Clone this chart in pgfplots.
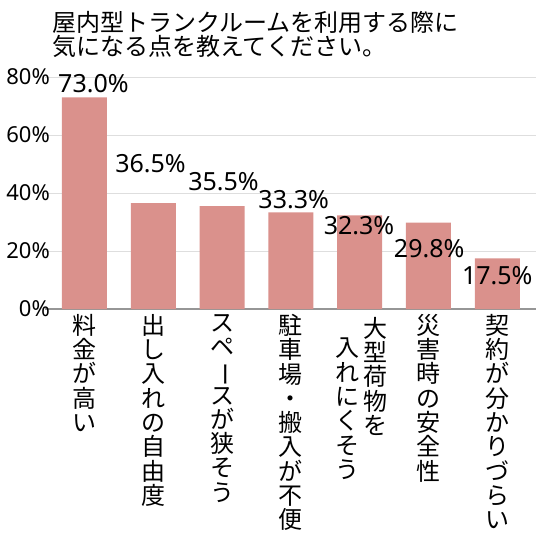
\documentclass[border=0pt]{standalone}
\usepackage{fontspec}
\setmainfont{Noto Sans CJK JP}
\newfontfamily\latinfont{Noto Sans}
\usepackage{graphicx}
\usepackage{pgfplots}
\pgfplotsset{compat=1.18}
\definecolor{barc}{RGB}{218,145,140}
\definecolor{gridc}{RGB}{222,222,222}
\definecolor{axc}{RGB}{150,150,150}
\newcommand{\vb}{\rotatebox[origin=c]{-90}{ー}}
\newcommand{\catfont}{\fontsize{24}{24.3}\selectfont}
\newcommand{\valfont}{\latinfont\fontsize{25}{25}\selectfont}
\begin{document}
\begin{tikzpicture}
\begin{axis}[
  at={(0,0)}, anchor=south west,
  scale only axis, width=491pt, height=232pt,
  xmin=-0.574, xmax=6.5625, ymin=0, ymax=80,
  axis x line*=bottom, axis y line*=left,
  x axis line style={draw=axc, line width=1.5pt},
  y axis line style={draw=none},
  xtick=\empty,
  ytick={0,20,40,60,80},
  major tick length=0pt,
  ymajorgrids, grid style={draw=gridc, line width=1pt},
  yticklabel={\pgfmathprintnumber{\tick}\%},
  yticklabel style={font=\latinfont\fontsize{22}{22}\selectfont, inner sep=0pt, anchor=east, xshift=5pt},
  /pgf/number format/assume math mode=true,
  clip=false,
  ybar, bar width=45pt, bar shift=0pt,
]
\addplot[fill=barc, draw=none] coordinates {(0,73.0) (1,36.5) (2,35.5) (3,33.3) (4,32.3) (5,29.8) (6,17.5)};
\node[font=\valfont, inner sep=0pt] at (axis cs:0.13,77.6) {73.0\%};
\node[font=\valfont, inner sep=0pt] at (axis cs:0.96,50.2) {36.5\%};
\node[font=\valfont, inner sep=0pt] at (axis cs:2.02,44.0) {35.5\%};
\node[font=\valfont, inner sep=0pt] at (axis cs:3.04,37.6) {33.3\%};
\node[font=\valfont, inner sep=0pt] at (axis cs:3.99,28.8) {32.3\%};
\node[font=\valfont, inner sep=0pt] at (axis cs:5.01,20.7) {29.8\%};
\node[font=\valfont, inner sep=0pt] at (axis cs:6.0,11.4) {17.5\%};
\node[font=\catfont, align=center, inner sep=0pt, anchor=north, yshift=-5pt] at (axis cs:0,0) {料\\金\\が\\高\\い};
\node[font=\catfont, align=center, inner sep=0pt, anchor=north, yshift=-5pt] at (axis cs:1,0) {出\\し\\入\\れ\\の\\自\\由\\度};
\node[font=\catfont, align=center, inner sep=0pt, anchor=north, yshift=-5pt] at (axis cs:2,0) {ス\\ペ\\\vb\\ス\\が\\狭\\そ\\う};
\node[font=\catfont, align=center, inner sep=0pt, anchor=north, yshift=-5pt] at (axis cs:3,0) {駐\\車\\場\\・\\搬\\入\\が\\不\\便};
\node[font=\catfont, align=center, inner sep=0pt, anchor=north, yshift=-8pt, xshift=15.5pt] at (axis cs:4,0) {大\\型\\荷\\物\\を};
\node[font=\catfont, align=center, inner sep=0pt, anchor=north, yshift=-29pt, xshift=-12pt] at (axis cs:4,0) {入\\れ\\に\\く\\そ\\う};
\node[font=\catfont, align=center, inner sep=0pt, anchor=north, yshift=-5pt] at (axis cs:5,0) {災\\害\\時\\の\\安\\全\\性};
\node[font=\catfont, align=center, inner sep=0pt, anchor=north, yshift=-5pt] at (axis cs:6,0) {契\\約\\が\\分\\か\\り\\づ\\ら\\い};
\end{axis}
\node[anchor=base west, inner sep=0pt, font=\fontsize{24}{24}\selectfont] at (7pt,277pt) {屋内型トランクルームを利用する際に};
\node[anchor=base west, inner sep=0pt, font=\fontsize{24}{24}\selectfont] at (7pt,253pt) {気になる点を教えてください。};
\pgfresetboundingbox
\path[use as bounding box] (-45pt,-227pt) rectangle (491pt,309pt);
\end{tikzpicture}
\end{document}
